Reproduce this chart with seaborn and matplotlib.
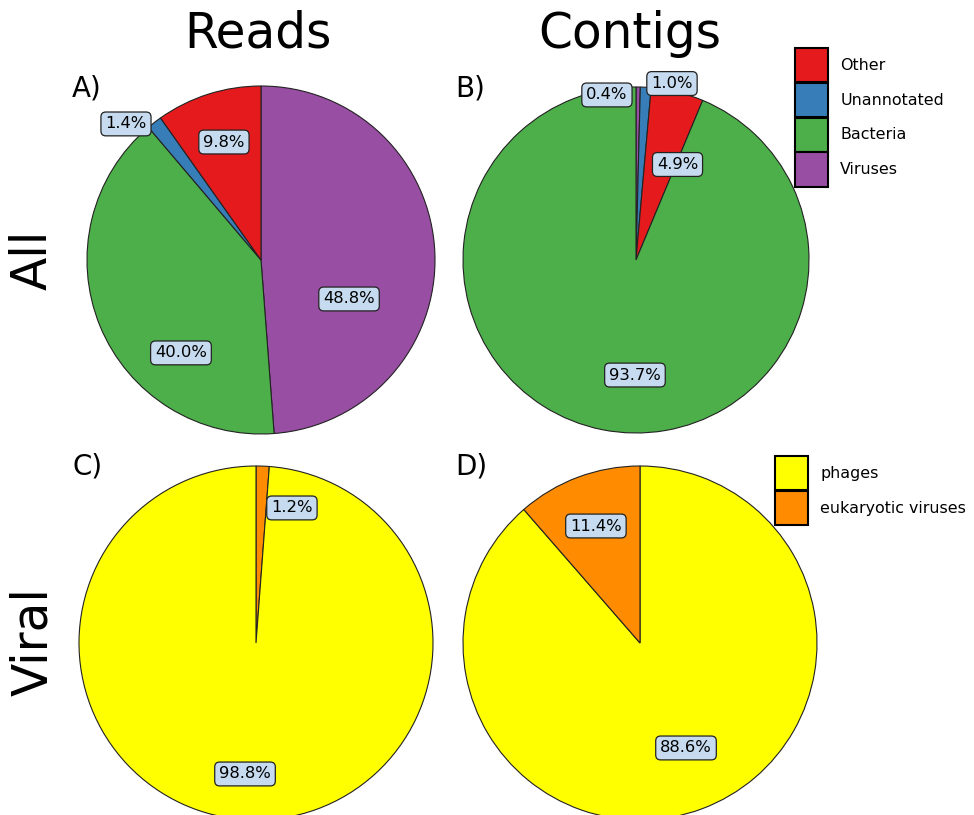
import matplotlib
matplotlib.use("Agg")
import matplotlib.pyplot as plt
from matplotlib.patches import Patch
import seaborn as sns

sns.set_theme(style="white")
plt.rcParams["font.family"] = ["DejaVu Sans"]
plt.rcParams["text.color"] = "black"

# ---- data -------------------------------------------------------------
all_categories = ["Other", "Unannotated", "Bacteria", "Viruses"]
viral_categories = ["phages", "eukaryotic viruses"]

# A) reads, all (clockwise from 12 o'clock)
reads_all_labels = ["Viruses", "Bacteria", "Unannotated", "Other"]
reads_all_values = [48.8, 40.0, 1.4, 9.8]
# B) contigs, all
contigs_all_labels = ["Viruses", "Unannotated", "Other", "Bacteria"]
contigs_all_values = [0.4, 1.0, 4.9, 93.7]
# C) reads, viral
reads_viral_labels = ["eukaryotic viruses", "phages"]
reads_viral_values = [1.2, 98.8]
# D) contigs, viral
contigs_viral_labels = ["phages", "eukaryotic viruses"]
contigs_viral_values = [88.6, 11.4]

col_titles = ["Reads", "Contigs"]
row_titles = ["All", "Viral"]
panel_tags = ["A)", "B)", "C)", "D)"]

# ---- styling ------------------------------------------------------------
set1 = sns.color_palette("Set1", 9)
colors = {
    "Other": set1[0],
    "Unannotated": set1[1],
    "Bacteria": set1[2],
    "Viruses": set1[3],
    "phages": "#FFFF00",
    "eukaryotic viruses": "#FF8C00",
}
label_face = "#C6DBEF"

W, H = 974, 815
fig = plt.figure(figsize=(W / 100, H / 100), dpi=100)
fig.patch.set_facecolor("white")

# pie centre (px from top-left), radius (px), and label anchors in radius units
layout = [
    dict(center=(261, 260), r=174,
         labels=[(0.506, -0.224), (-0.46, -0.534), (-0.776, 0.782), (-0.213, 0.678)]),
    dict(center=(636, 260), r=173,
         labels=[(-0.168, 0.954), (0.208, 1.02), (0.240, 0.552), (-0.006, -0.665)]),
    dict(center=(256, 643), r=177,
         labels=[(0.203, 0.763), (-0.062, -0.74)]),
    dict(center=(640, 643), r=177,
         labels=[(0.26, -0.593), (-0.249, 0.661)]),
]
panels = [
    (reads_all_labels, reads_all_values),
    (contigs_all_labels, contigs_all_values),
    (reads_viral_labels, reads_viral_values),
    (contigs_viral_labels, contigs_viral_values),
]

for (names, vals), lay in zip(panels, layout):
    cx, cy = lay["center"]
    r = lay["r"]
    ax = fig.add_axes([(cx - r) / W, 1 - (cy + r) / H, 2 * r / W, 2 * r / H])
    ax.pie(vals, colors=[colors[n] for n in names], startangle=90,
           counterclock=False, radius=1,
           wedgeprops=dict(edgecolor="#222222", linewidth=0.8))
    ax.set_xlim(-1, 1)
    ax.set_ylim(-1, 1)
    ax.set_aspect("equal")
    ax.axis("off")
    for v, (lx, ly) in zip(vals, lay["labels"]):
        ax.text(lx, ly, f"{v:.1f}%", ha="center", va="center", fontsize=11.8,
                color="black", zorder=5, clip_on=False,
                bbox=dict(boxstyle="round,pad=0.27,rounding_size=0.3",
                          facecolor=label_face, edgecolor="#222222", linewidth=0.9))

# column and row titles
for x, t in zip([258, 630], col_titles):
    fig.text(x / W, 1 - 34 / H, t, ha="center", va="center", fontsize=35, color="black")
for y, t in zip([260, 642], row_titles):
    fig.text(33 / W, 1 - y / H, t, ha="center", va="center", fontsize=35,
             rotation=90, color="black")

# panel tags
for (x, y), t in zip([(72, 88), (455, 88), (72, 466), (455, 466)], panel_tags):
    fig.text(x / W, 1 - y / H, t, ha="left", va="center", fontsize=20, color="black")

# legends
def add_legend(cats, x, y):
    handles = [Patch(facecolor=colors[c], edgecolor="black", linewidth=1.5) for c in cats]
    fig.legend(handles, cats, loc="upper left", bbox_to_anchor=(x / W, 1 - y / H),
               frameon=False, fontsize=11.4, handlelength=2.1, handleheight=2.93,
               labelspacing=0.05, handletextpad=0.75, borderpad=0, borderaxespad=0,
               labelcolor="black")

add_legend(all_categories, 795, 48)
add_legend(viral_categories, 775, 456)

fig.savefig("out.png", dpi=100, facecolor="white")
